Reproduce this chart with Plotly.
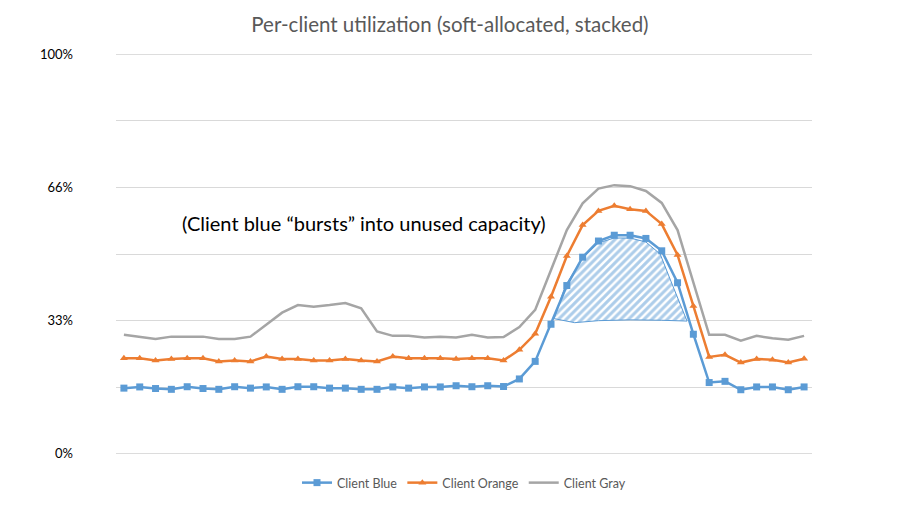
import plotly.graph_objects as go

idx = list(range(44))

blue = [16.4, 16.7, 16.3, 16.1, 16.75, 16.3, 16.1, 16.75, 16.4, 16.7,
        16.1, 16.75, 16.75, 16.4, 16.4, 16.1, 16.1, 16.7, 16.4, 16.7,
        16.7, 17.0, 16.75, 17.0, 16.8, 18.7, 23.1, 32.4, 42.1, 49.2,
        53.25, 54.7, 54.7, 53.9, 50.8, 42.8, 29.9, 17.8, 18.1, 16.0,
        16.7, 16.7, 16.0, 16.7]

orange = [23.9, 23.9, 23.3, 23.7, 23.9, 23.9, 23.1, 23.3, 23.1, 24.3,
          23.7, 23.7, 23.3, 23.3, 23.7, 23.3, 23.1, 24.3, 23.9, 23.9,
          23.9, 23.7, 23.9, 23.9, 23.35, 26.0, 30.0, 39.3, 49.5, 57.25,
          60.8, 62.1, 61.2, 60.8, 57.5, 49.75, 37.0, 24.2, 24.75, 22.8,
          23.7, 23.5, 22.8, 23.75]

gray = [29.75, 29.3, 28.7, 29.3, 29.3, 29.3, 28.7, 28.7, 29.3, 32.4,
        35.3, 37.2, 36.8, 37.2, 37.7, 36.4, 30.6, 29.5, 29.5, 29.1,
        29.3, 29.1, 29.75, 29.1, 29.2, 31.7, 36.0, 46.0, 56.0, 62.7,
        66.4, 67.25, 67.0, 65.8, 62.8, 56.0, 42.7, 29.75, 29.75, 28.3,
        29.5, 28.9, 28.5, 29.5]

# hatched "burst" region outline (category index, percent)
hatch_top_idx = [27.2, 27.9, 29.0, 30.0, 31.0, 32.0, 33.0, 33.9, 34.6, 35.6]
hatch_top_val = [33.8, 42.0, 49.0, 52.8, 54.0, 54.0, 53.0, 50.0, 43.0, 33.3]
hatch_bot_idx = [35.6, 34.0, 32.0, 30.0, 28.5, 27.2]
hatch_bot_val = [33.2, 33.4, 33.5, 33.3, 32.8, 33.8]

tick_vals = [0, 100/6, 200/6, 50, 400/6, 500/6, 100]
tick_text = ["0%", "", "33%", "", "66%", "", "100%"]

BLUE = "#5B9BD5"
ORANGE = "#ED7D31"
GRAY = "#A5A5A5"
GRID = "#D9D9D9"
FONT = "Lato"

fig = go.Figure()

# edge gridlines (plotly omits grid lines lying on the plot border)
for v in (tick_vals[0], tick_vals[-1]):
    fig.add_shape(type="line", xref="paper", x0=0, x1=1, yref="y", y0=v, y1=v,
                  line=dict(color=GRID, width=1), layer="below")

fig.add_trace(go.Scatter(
    x=hatch_top_idx + hatch_bot_idx,
    y=hatch_top_val + hatch_bot_val,
    fill="toself", mode="lines",
    line=dict(color=BLUE, width=1),
    fillcolor="rgba(0,0,0,0)",
    fillpattern=dict(shape="/", fgcolor=BLUE, bgcolor="white", size=5.5, solidity=0.55),
    showlegend=False, hoverinfo="skip"))

fig.add_trace(go.Scatter(
    x=idx, y=blue, name="Client Blue", mode="lines+markers",
    line=dict(color=BLUE, width=2.5),
    marker=dict(symbol="square", size=7, color=BLUE)))

fig.add_trace(go.Scatter(
    x=idx, y=orange, name="Client Orange", mode="lines+markers",
    line=dict(color=ORANGE, width=2.5),
    marker=dict(symbol="triangle-up", size=7, color=ORANGE)))

fig.add_trace(go.Scatter(
    x=idx, y=gray, name="Client Gray", mode="lines",
    line=dict(color=GRAY, width=2.5)))

fig.add_annotation(
    text="(Client blue \u201cbursts\u201d into unused capacity)",
    x=0.356, y=0.5775, xref="paper", yref="paper",
    showarrow=False, font=dict(family=FONT, size=20, color="#000000"))

fig.update_layout(
    width=900, height=506,
    margin=dict(l=108, r=96, t=46, b=60),
    paper_bgcolor="white", plot_bgcolor="white",
    title=dict(text="Per-client utilization (soft-allocated, stacked)",
               x=0.4911, xanchor="center", y=0.966, yanchor="middle",
               font=dict(family=FONT, size=20.5, color="#595959")),
    font=dict(family=FONT, color="#595959"),
    xaxis=dict(range=[-0.5, 43.5], showticklabels=False, showgrid=False,
               zeroline=False, showline=False, ticks=""),
    yaxis=dict(range=[-0.1, 100.1], tickvals=tick_vals, ticktext=tick_text,
               showgrid=True, gridcolor=GRID, gridwidth=1,
               zeroline=False, showline=False, ticks="",
               ticklabelstandoff=42,
               tickfont=dict(family=FONT, size=13, color="#000000")),
    legend=dict(orientation="h", x=0.5, xanchor="center", xref="paper",
                y=-0.0725, yanchor="middle",
                font=dict(family=FONT, size=12.5, color="#595959")),
)

fig.write_html("out.html")
